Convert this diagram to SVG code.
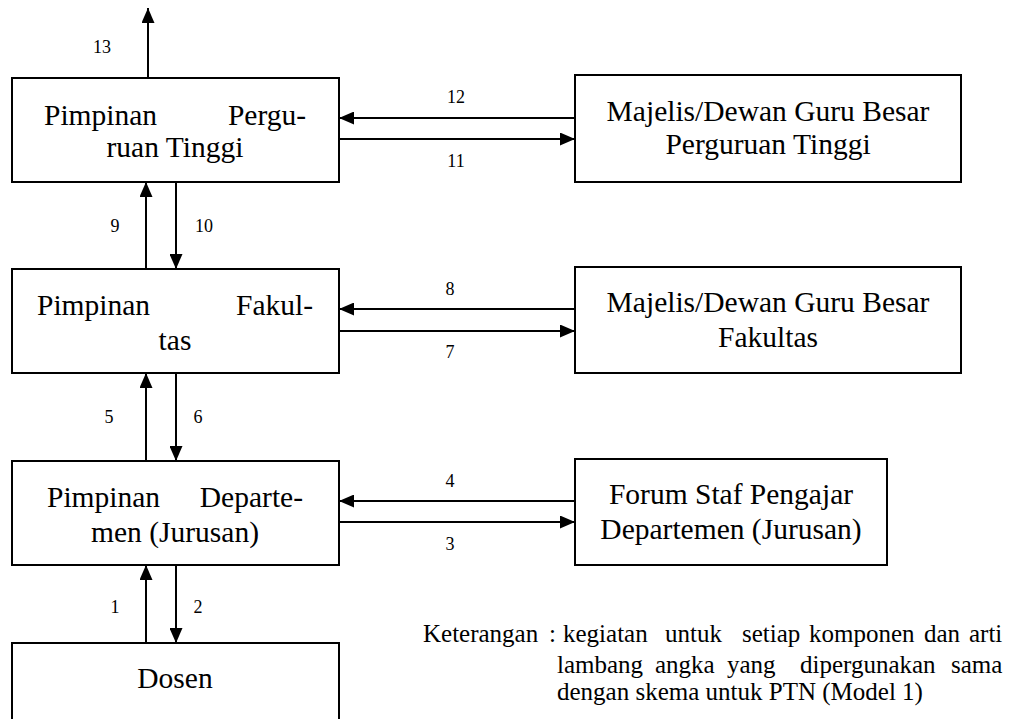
<svg xmlns="http://www.w3.org/2000/svg" width="1009" height="719" viewBox="0 0 1009 719">
<style>
.box{fill:#fff;stroke:#000;stroke-width:2}
.t{font-family:'Liberation Serif','DejaVu Serif',serif;font-size:29.5px;fill:#000}
.c{text-anchor:middle}
.e{text-anchor:end}
.n{font-family:'Liberation Serif','DejaVu Serif',serif;font-size:18px;fill:#000;text-anchor:middle}
.k{font-family:'Liberation Serif','DejaVu Serif',serif;font-size:25px;fill:#000}
.ln{fill:none;stroke:#000;stroke-width:2;marker-end:url(#ah)}
</style>
<defs>
<marker id="ah" markerUnits="userSpaceOnUse" markerWidth="15" markerHeight="13" viewBox="0 0 15 13" refX="15" refY="6.5" orient="auto">
<path d="M0,0 L15,6.5 L0,13 z" fill="#000"/>
</marker>
</defs>
<rect width="1009" height="719" fill="#fff"/>

<g id="pimpinan-pt">
<rect class="box" x="12" y="78" width="327" height="104"/>
<text class="t" x="44" y="125">Pimpinan</text>
<text class="t e" x="306" y="125">Pergu-</text>
<text class="t c" x="175" y="157">ruan Tinggi</text>
</g>
<g id="majelis-pt">
<rect class="box" x="575" y="75" width="386" height="107"/>
<text class="t c" x="768" y="121">Majelis/Dewan Guru Besar</text>
<text class="t c" x="768" y="154">Perguruan Tinggi</text>
</g>
<g id="pimpinan-fak">
<rect class="box" x="12" y="269" width="327" height="104"/>
<text class="t" x="37" y="315">Pimpinan</text>
<text class="t e" x="313" y="315">Fakul-</text>
<text class="t c" x="175" y="350">tas</text>
</g>
<g id="majelis-fak">
<rect class="box" x="575" y="267" width="386" height="106"/>
<text class="t c" x="768" y="312">Majelis/Dewan Guru Besar</text>
<text class="t c" x="768" y="347">Fakultas</text>
</g>
<g id="pimpinan-dep">
<rect class="box" x="12" y="461" width="327" height="104"/>
<text class="t" x="47" y="507">Pimpinan</text>
<text class="t e" x="303" y="507">Departe-</text>
<text class="t c" x="175" y="542">men (Jurusan)</text>
</g>
<g id="forum">
<rect class="box" x="575" y="459" width="312" height="106"/>
<text class="t c" x="731" y="504">Forum Staf Pengajar</text>
<text class="t c" x="731" y="539">Departemen (Jurusan)</text>
</g>
<g id="dosen">
<rect class="box" x="12" y="643" width="327" height="100"/>
<text class="t c" x="175" y="688">Dosen</text>
</g>

<g id="connectors">
<path class="ln" d="M148 78 V8"/>
<path class="ln" d="M575 118 H339"/>
<path class="ln" d="M339 139 H575"/>
<path class="ln" d="M146 269 V182"/>
<path class="ln" d="M176 182 V269"/>
<path class="ln" d="M575 309 H339"/>
<path class="ln" d="M339 331 H575"/>
<path class="ln" d="M146 461 V373"/>
<path class="ln" d="M176 373 V461"/>
<path class="ln" d="M575 501 H339"/>
<path class="ln" d="M339 522 H575"/>
<path class="ln" d="M146 643 V565"/>
<path class="ln" d="M176 565 V643"/>
</g>

<g id="labels">
<text class="n" x="102" y="53">13</text>
<text class="n" x="456" y="103">12</text>
<text class="n" x="456" y="167">11</text>
<text class="n" x="115" y="232">9</text>
<text class="n" x="204" y="232">10</text>
<text class="n" x="450" y="295">8</text>
<text class="n" x="450" y="358">7</text>
<text class="n" x="109" y="423">5</text>
<text class="n" x="198" y="423">6</text>
<text class="n" x="450" y="487">4</text>
<text class="n" x="450" y="550">3</text>
<text class="n" x="115" y="613">1</text>
<text class="n" x="198" y="613">2</text>
</g>

<g id="keterangan">
<text class="k" y="642"><tspan x="423">Keterangan</tspan><tspan x="549">:</tspan><tspan x="563">kegiatan</tspan><tspan x="665">untuk</tspan><tspan x="742">setiap</tspan><tspan x="809">komponen</tspan><tspan x="924">dan</tspan><tspan x="969">arti</tspan></text>
<text class="k" y="673"><tspan x="557">lambang</tspan><tspan x="655">angka</tspan><tspan x="727">yang</tspan><tspan x="800">dipergunakan</tspan><tspan x="951">sama</tspan></text>
<text class="k" x="557" y="700">dengan skema untuk PTN (Model 1)</text>
</g>
</svg>
